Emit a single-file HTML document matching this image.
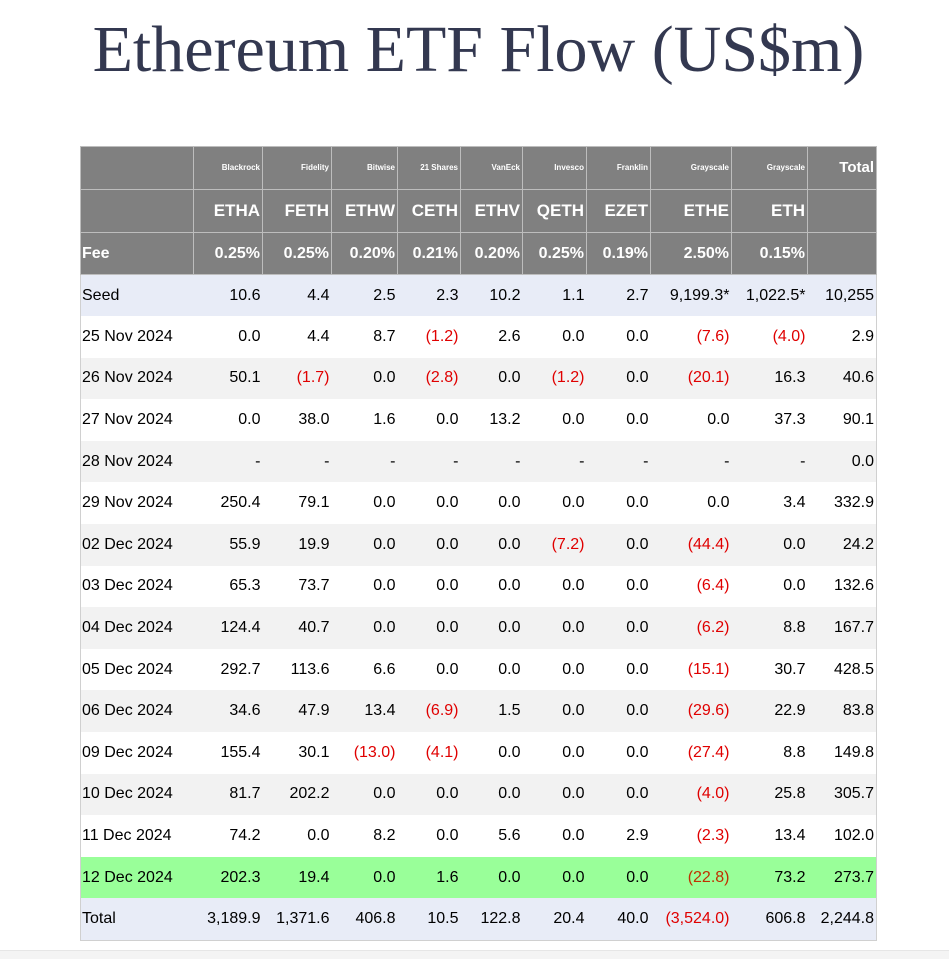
<!DOCTYPE html>
<html><head><meta charset="utf-8"><style>
body{margin:0;width:949px;height:958px;background:#fff;position:relative;overflow:hidden;font-family:"Liberation Sans",Arial,sans-serif}
h1{position:absolute;top:10px;left:0;width:957px;margin:0;text-align:center;font-family:"Liberation Serif",serif;font-weight:normal;font-size:66px;color:#333850;line-height:80px}
table{position:absolute;left:80px;top:146px;border-collapse:collapse;table-layout:fixed;border:1px solid #d0d0d0}
td{padding:0 2px 0 2px;text-align:right;font-size:16px;line-height:18px;color:#000;white-space:nowrap;height:41.6px;box-sizing:border-box}
td:first-child{text-align:left;padding-left:1px}
tr.h td{background:#808080;color:#fff;font-weight:bold;border:1px solid #bdbdbd}
tr.h1 td{height:43px;font-size:8px;line-height:10px;vertical-align:middle}
tr.h1 td:last-child{font-size:15px;line-height:16px;vertical-align:top;padding-top:13px}
tr.h2 td{height:43px;font-size:17px}
tr.h3 td{height:42px;font-size:16px}
.s td{background:#e8ecf7}.w td{background:#fff}.g td{background:#f2f2f2}.gr td{background:#99ff99}
.r{color:#e00000 !important}
.gr .r{color:#c03000 !important}
.foot{position:absolute;left:0;top:950px;width:949px;height:8px;background:#f4f4f4;border-top:1px solid #e6e6e6}
</style></head><body>
<h1>Ethereum ETF Flow (US$m)</h1>
<table>
<colgroup><col style="width:113px"><col style="width:69px"><col style="width:69px"><col style="width:66px"><col style="width:63px"><col style="width:62px"><col style="width:64px"><col style="width:64px"><col style="width:81px"><col style="width:76px"><col style="width:69px"></colgroup>
<tr class="h h1"><td></td><td>Blackrock</td><td>Fidelity</td><td>Bitwise</td><td>21 Shares</td><td>VanEck</td><td>Invesco</td><td>Franklin</td><td>Grayscale</td><td>Grayscale</td><td>Total</td></tr>
<tr class="h h2"><td></td><td>ETHA</td><td>FETH</td><td>ETHW</td><td>CETH</td><td>ETHV</td><td>QETH</td><td>EZET</td><td>ETHE</td><td>ETH</td><td></td></tr>
<tr class="h h3"><td>Fee</td><td>0.25%</td><td>0.25%</td><td>0.20%</td><td>0.21%</td><td>0.20%</td><td>0.25%</td><td>0.19%</td><td>2.50%</td><td>0.15%</td><td></td></tr>
<tr class="s"><td>Seed</td><td>10.6</td><td>4.4</td><td>2.5</td><td>2.3</td><td>10.2</td><td>1.1</td><td>2.7</td><td>9,199.3*</td><td>1,022.5*</td><td>10,255</td></tr>
<tr class="w"><td>25 Nov 2024</td><td>0.0</td><td>4.4</td><td>8.7</td><td class="r">(1.2)</td><td>2.6</td><td>0.0</td><td>0.0</td><td class="r">(7.6)</td><td class="r">(4.0)</td><td>2.9</td></tr>
<tr class="g"><td>26 Nov 2024</td><td>50.1</td><td class="r">(1.7)</td><td>0.0</td><td class="r">(2.8)</td><td>0.0</td><td class="r">(1.2)</td><td>0.0</td><td class="r">(20.1)</td><td>16.3</td><td>40.6</td></tr>
<tr class="w"><td>27 Nov 2024</td><td>0.0</td><td>38.0</td><td>1.6</td><td>0.0</td><td>13.2</td><td>0.0</td><td>0.0</td><td>0.0</td><td>37.3</td><td>90.1</td></tr>
<tr class="g"><td>28 Nov 2024</td><td>-</td><td>-</td><td>-</td><td>-</td><td>-</td><td>-</td><td>-</td><td>-</td><td>-</td><td>0.0</td></tr>
<tr class="w"><td>29 Nov 2024</td><td>250.4</td><td>79.1</td><td>0.0</td><td>0.0</td><td>0.0</td><td>0.0</td><td>0.0</td><td>0.0</td><td>3.4</td><td>332.9</td></tr>
<tr class="g"><td>02 Dec 2024</td><td>55.9</td><td>19.9</td><td>0.0</td><td>0.0</td><td>0.0</td><td class="r">(7.2)</td><td>0.0</td><td class="r">(44.4)</td><td>0.0</td><td>24.2</td></tr>
<tr class="w"><td>03 Dec 2024</td><td>65.3</td><td>73.7</td><td>0.0</td><td>0.0</td><td>0.0</td><td>0.0</td><td>0.0</td><td class="r">(6.4)</td><td>0.0</td><td>132.6</td></tr>
<tr class="g"><td>04 Dec 2024</td><td>124.4</td><td>40.7</td><td>0.0</td><td>0.0</td><td>0.0</td><td>0.0</td><td>0.0</td><td class="r">(6.2)</td><td>8.8</td><td>167.7</td></tr>
<tr class="w"><td>05 Dec 2024</td><td>292.7</td><td>113.6</td><td>6.6</td><td>0.0</td><td>0.0</td><td>0.0</td><td>0.0</td><td class="r">(15.1)</td><td>30.7</td><td>428.5</td></tr>
<tr class="g"><td>06 Dec 2024</td><td>34.6</td><td>47.9</td><td>13.4</td><td class="r">(6.9)</td><td>1.5</td><td>0.0</td><td>0.0</td><td class="r">(29.6)</td><td>22.9</td><td>83.8</td></tr>
<tr class="w"><td>09 Dec 2024</td><td>155.4</td><td>30.1</td><td class="r">(13.0)</td><td class="r">(4.1)</td><td>0.0</td><td>0.0</td><td>0.0</td><td class="r">(27.4)</td><td>8.8</td><td>149.8</td></tr>
<tr class="g"><td>10 Dec 2024</td><td>81.7</td><td>202.2</td><td>0.0</td><td>0.0</td><td>0.0</td><td>0.0</td><td>0.0</td><td class="r">(4.0)</td><td>25.8</td><td>305.7</td></tr>
<tr class="w"><td>11 Dec 2024</td><td>74.2</td><td>0.0</td><td>8.2</td><td>0.0</td><td>5.6</td><td>0.0</td><td>2.9</td><td class="r">(2.3)</td><td>13.4</td><td>102.0</td></tr>
<tr class="gr"><td>12 Dec 2024</td><td>202.3</td><td>19.4</td><td>0.0</td><td>1.6</td><td>0.0</td><td>0.0</td><td>0.0</td><td class="r">(22.8)</td><td>73.2</td><td>273.7</td></tr>
<tr class="s"><td>Total</td><td>3,189.9</td><td>1,371.6</td><td>406.8</td><td>10.5</td><td>122.8</td><td>20.4</td><td>40.0</td><td class="r">(3,524.0)</td><td>606.8</td><td>2,244.8</td></tr>
</table>
<div class="foot"></div>
</body></html>
